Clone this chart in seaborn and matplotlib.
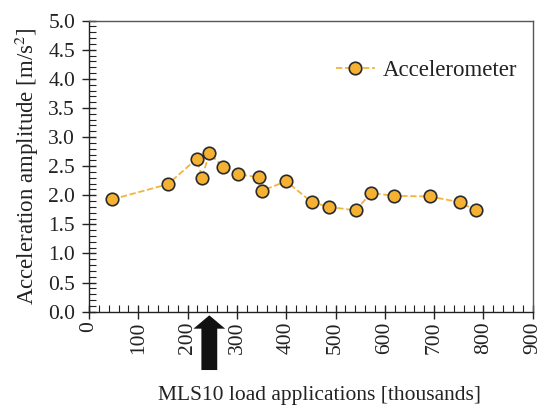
import matplotlib
matplotlib.use("Agg")
import matplotlib.pyplot as plt
import seaborn as sns
import pandas as pd
from matplotlib.ticker import MultipleLocator, FormatStrFormatter

# Load applications (thousands) and measured acceleration amplitude (m/s^2)
load_k = [47, 160, 219, 229, 244, 272, 302, 345, 351, 400,
          452, 487, 541, 572, 619, 691, 752, 785]
accel = [1.93, 2.19, 2.63, 2.30, 2.72, 2.49, 2.36, 2.31, 2.08, 2.24,
         1.88, 1.80, 1.74, 2.04, 1.99, 1.98, 1.88, 1.74]
marked_load = 244  # load level highlighted with the arrow

df = pd.DataFrame({"load": load_k, "accel": accel})

sns.set_theme(style="ticks")
plt.rcParams["font.family"] = ["Liberation Serif", "DejaVu Serif"]
plt.rcParams["mathtext.fontset"] = "stix"

fig = plt.figure(figsize=(5.42, 4.05), dpi=100)
ax = fig.add_axes([0.1642, 0.2304, 0.8188, 0.7186])

sns.lineplot(data=df, x="load", y="accel", ax=ax, color="#F4B43C",
             linestyle=(0, (3.5, 1.5)), linewidth=1.3, marker="o",
             markersize=9, markerfacecolor="#F5B132",
             markeredgecolor="#2a2a2a", markeredgewidth=1.2,
             label="Accelerometer")

ax.set_xlim(0, 900)
ax.set_ylim(0, 5.0)
ax.xaxis.set_major_locator(MultipleLocator(100))
ax.xaxis.set_minor_locator(MultipleLocator(20))
ax.yaxis.set_major_locator(MultipleLocator(0.5))
ax.yaxis.set_minor_locator(MultipleLocator(0.1))
ax.yaxis.set_major_formatter(FormatStrFormatter("%.1f"))

ax.tick_params(axis="both", which="major", direction="inout", length=10,
               width=1.0, color="#222222", labelsize=15.5, labelcolor="#222222")
ax.tick_params(axis="both", which="minor", direction="in", length=5,
               width=0.8, color="#222222")
ax.tick_params(axis="x", which="major", labelrotation=90, pad=2)
ax.tick_params(axis="y", which="major", pad=5)

for side in ["left", "bottom"]:
    ax.spines[side].set_color("#222222")
    ax.spines[side].set_linewidth(1.0)
for side in ["top", "right"]:
    ax.spines[side].set_visible(True)
    ax.spines[side].set_color("#555555")
    ax.spines[side].set_linewidth(1.0)

ax.set_ylabel("Acceleration amplitude [m/s$^2$]", fontsize=16.5,
              color="#222222", labelpad=5)
ax.set_xlabel("MLS10 load applications [thousands]", fontsize=15.5,
              color="#222222")
ax.xaxis.set_label_coords(0.52, -0.255)

# Arrow below the axis pointing at the peak reading
ax.annotate("", xy=(marked_load, -0.003), xycoords=("data", "axes fraction"),
            xytext=(marked_load, -0.21), textcoords=("data", "axes fraction"),
            arrowprops=dict(arrowstyle="simple,head_width=1.9,head_length=0.8,tail_width=0.95",
                            fc="#111111", ec="#111111", lw=0),
            annotation_clip=False)

leg = ax.legend(loc="upper right", bbox_to_anchor=(1.012, 0.935),
                frameon=False, fontsize=16.5, handlelength=1.7,
                handletextpad=0.35)
for t in leg.get_texts():
    t.set_color("#222222")

fig.savefig("out.png", dpi=100)
